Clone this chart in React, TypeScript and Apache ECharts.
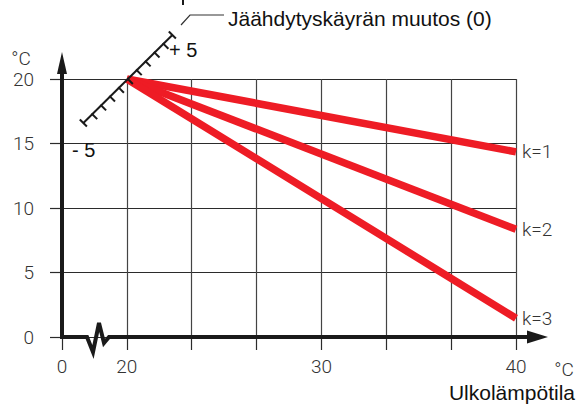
import React, { useEffect, useRef } from "react";
import * as echarts from "echarts";

// ---- data ----
const xMin = 50 / 3; // position of the "0" label before the axis break
const xMax = 40;
const xInterval = 10 / 3;
const xTickValues = [50 / 3, 20, 30, 40];
const xTickLabels = ["0", "20", "30", "40"];
const yMin = 0;
const yMax = 20;
const yInterval = 5;
const startX = 20;
const startY = 20;
const endX = 40;
const curveLabels = ["k=1", "k=2", "k=3"];
const curveEndValues = [14.35, 8.35, 1.45];
const shiftLabels = ["+ 5", "- 5"];
const titleText = "Jäähdytyskäyrän muutos (0)";
const xAxisTitle = "Ulkolämpötila";
const unitLabel = "°C";

const RED = "#ee1c25";
const DARK = "#2b2b2b";
const LABEL_FONT = "Roboto";
const TEXT_FONT = "Liberation Sans";

export default function App() {
  const ref = useRef<HTMLDivElement>(null);

  useEffect(() => {
    if (!ref.current) return;
    const chart = echarts.init(ref.current, undefined, { renderer: "svg" });

    const series = curveEndValues.map((v, i) => ({
      type: "line",
      name: curveLabels[i],
      data: [
        [startX, startY],
        [endX, v],
      ],
      showSymbol: false,
      symbol: "none",
      lineStyle: { color: RED, width: 7.5, cap: "butt" },
      z: 3,
      endLabel: {
        show: true,
        formatter: curveLabels[i],
        color: "#333",
        fontFamily: LABEL_FONT,
        fontWeight: 300,
        fontSize: 19,
        distance: 6,
      },
    }));

    chart.setOption({
      animation: false,
      grid: { left: 62, right: 60, top: 79, bottom: 70 },
      xAxis: {
        type: "value",
        min: xMin,
        max: xMax,
        interval: xInterval,
        axisLine: { show: false },
        axisTick: {
          show: true,
          length: 13,
          lineStyle: { color: DARK, width: 1.2 },
        },
        splitLine: { show: true, lineStyle: { color: "#444", width: 1.2 } },
        axisLabel: {
          show: true,
          margin: 20,
          color: "#333",
          fontFamily: LABEL_FONT,
          fontWeight: 300,
          fontSize: 19,
          showMinLabel: true,
          showMaxLabel: true,
          formatter: (val: number) => {
            const idx = xTickValues.findIndex((t) => Math.abs(t - val) < 0.01);
            return idx >= 0 ? xTickLabels[idx] : "";
          },
        },
      },
      yAxis: {
        type: "value",
        min: yMin,
        max: yMax,
        interval: yInterval,
        axisLine: { show: false },
        axisTick: {
          show: true,
          length: 12,
          lineStyle: { color: DARK, width: 1.2 },
        },
        splitLine: { show: true, lineStyle: { color: DARK, width: 1.2 } },
        axisLabel: {
          margin: 28,
          color: "#333",
          fontFamily: LABEL_FONT,
          fontWeight: 300,
          fontSize: 19,
        },
      },
      series,
    });

    const p = (x: number, y: number) =>
      chart.convertToPixel({ xAxisIndex: 0, yAxisIndex: 0 }, [x, y]) as number[];
    const o = p(xMin, yMin); // origin (~62, 337)
    const c = p(startX, startY); // pivot (~127, 79)
    const e = p(endX, yMin); // (~516, 337)
    const top = p(xMin, yMax);

    const ox = o[0];
    const oy = o[1];

    // slope scale along the diagonal through the pivot
    const stepX = 8.9;
    const stepY = -8.8;
    const cx = c[0] + 1;
    const cy = c[1];
    const perp = [0.707, 0.707];
    const scaleEls: any[] = [
      {
        type: "line",
        shape: {
          x1: cx - 5 * stepX,
          y1: cy - 5 * stepY,
          x2: cx + 5 * stepX,
          y2: cy + 5 * stepY,
        },
        style: { stroke: "#1a1a1a", lineWidth: 2 },
        z: 10,
      },
    ];
    for (let i = -5; i <= 5; i++) {
      const px = cx + i * stepX;
      const py = cy + i * stepY;
      const isEnd = Math.abs(i) === 5;
      const a = isEnd ? -5 : -1;
      const b = isEnd ? 5 : 7;
      scaleEls.push({
        type: "line",
        shape: {
          x1: px + perp[0] * a,
          y1: py + perp[1] * a,
          x2: px + perp[0] * b,
          y2: py + perp[1] * b,
        },
        style: { stroke: "#1a1a1a", lineWidth: 2 },
        z: 10,
      });
    }

    chart.setOption({
      graphic: [
        // y axis with arrow
        {
          type: "line",
          shape: { x1: ox, y1: oy + 2, x2: ox, y2: top[1] - 8 },
          style: { stroke: "#1a1a1a", lineWidth: 4 },
          z: 10,
        },
        {
          type: "polygon",
          shape: {
            points: [
              [ox - 5, top[1] - 5],
              [ox + 5, top[1] - 5],
              [ox, top[1] - 27],
            ],
          },
          style: { fill: "#1a1a1a" },
          z: 10,
        },
        // x axis with break and arrow
        {
          type: "polyline",
          shape: {
            points: [
              [ox - 2, oy],
              [ox + 25, oy],
              [ox + 31, oy + 15],
              [ox + 37, oy - 14],
              [ox + 42, oy + 6],
              [ox + 47, oy],
              [e[0] + 14, oy],
            ],
          },
          style: { stroke: "#1a1a1a", lineWidth: 4, lineJoin: "miter", fill: null },
          z: 10,
        },
        {
          type: "polygon",
          shape: {
            points: [
              [e[0] + 11, oy - 6.5],
              [e[0] + 11, oy + 6.5],
              [e[0] + 32, oy],
            ],
          },
          style: { fill: "#1a1a1a" },
          z: 10,
        },
        ...scaleEls,
        // leader line to the title
        {
          type: "polyline",
          shape: { points: [[181, 25], [190, 15], [224, 15]] },
          style: { stroke: "#333", lineWidth: 1.2, fill: null },
          z: 10,
        },
        // cut-off mark at the top
        {
          type: "rect",
          shape: { x: 182, y: 0, width: 2, height: 5 },
          style: { fill: "#1a1a1a" },
          z: 10,
        },
        {
          type: "text",
          x: 228,
          y: 18,
          style: {
            text: titleText,
            font: `21px "${TEXT_FONT}"`,
            fill: "#111",
            verticalAlign: "middle",
          },
          z: 10,
        },
        {
          type: "text",
          x: 169,
          y: 50,
          style: {
            text: shiftLabels[0],
            font: `20px "${TEXT_FONT}"`,
            fill: "#111",
            verticalAlign: "middle",
          },
          z: 10,
        },
        {
          type: "text",
          x: 72,
          y: 150,
          style: {
            text: shiftLabels[1],
            font: `20px "${TEXT_FONT}"`,
            fill: "#111",
            verticalAlign: "middle",
          },
          z: 10,
        },
        {
          type: "text",
          x: 21,
          y: 58,
          style: {
            text: unitLabel,
            font: `300 19px "${LABEL_FONT}"`,
            fill: "#333",
            align: "center",
            verticalAlign: "middle",
          },
          z: 10,
        },
        {
          type: "text",
          x: 564,
          y: 369,
          style: {
            text: unitLabel,
            font: `300 19px "${LABEL_FONT}"`,
            fill: "#333",
            align: "center",
            verticalAlign: "middle",
          },
          z: 10,
        },
        {
          type: "text",
          x: 575,
          y: 392,
          style: {
            text: xAxisTitle,
            font: `21px "${TEXT_FONT}"`,
            fill: "#111",
            align: "right",
            verticalAlign: "middle",
          },
          z: 10,
        },
      ],
    });

    return () => chart.dispose();
  }, []);

  return (
    <div
      ref={ref}
      style={{ position: "fixed", left: 0, top: 0, width: 576, height: 407, background: "#fff" }}
    />
  );
}
